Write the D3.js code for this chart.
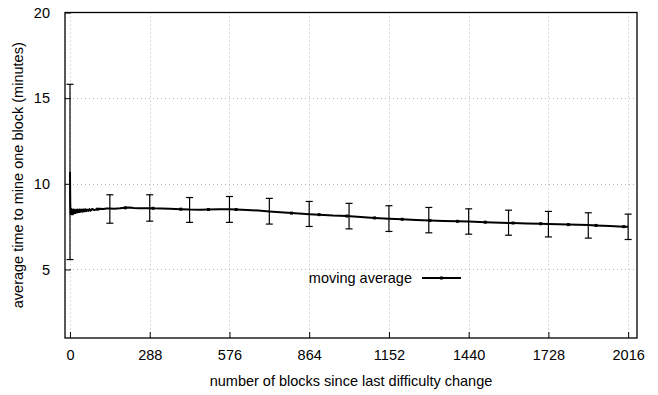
<!DOCTYPE html>
<html>
<head>
<meta charset="utf-8">
<script src="https://cdn.jsdelivr.net/npm/d3@7"></script>
<style>
  html, body { margin: 0; padding: 0; background: #fff; }
  svg { display: block; }
  text { font-family: "Liberation Sans", Arial, sans-serif; font-size: 14.5px; fill: #000; }
</style>
</head>
<body>
<svg id="chart" width="658" height="395"></svg>
<script>
// Moving average of block time, sampled along the difficulty period
const blocks = [0,1,2,3,4,5,6,7,8,9,10,11,12,13,14,15,16,18,20,22,24,26,28,30,32,34,36,38,40,43,46,49,52,55,58,62,66,70,74,80,88,96,
  100,110,120,132,144,160,180,200,215,230,250,270,288,300,330,360,400,432,470,500,540,576,600,640,680,720,
  760,800,840,864,900,950,1000,1050,1100,1152,1200,1250,1300,1350,1400,1440,1500,1584,1600,1650,1700,1728,
  1800,1872,1900,1950,2000,2016];
const avgMinutes = [10.7,8.9,8.25,8.55,8.22,8.45,8.24,8.5,8.28,8.46,8.22,8.44,8.26,8.5,8.3,8.45,8.28,8.48,8.3,8.46,8.32,8.5,8.34,8.48,8.36,8.5,8.35,8.49,8.38,8.5,8.37,8.5,8.4,8.52,8.4,8.5,8.42,8.52,8.43,8.53,8.46,8.52,
  8.52,8.54,8.53,8.56,8.56,8.55,8.57,8.6,8.62,8.59,8.58,8.58,8.58,8.57,8.56,8.55,8.52,8.5,8.49,8.5,8.51,8.52,8.5,8.47,8.44,8.39,
  8.34,8.29,8.25,8.23,8.2,8.15,8.12,8.06,8.01,7.96,7.93,7.89,7.86,7.83,7.81,7.8,7.76,7.72,7.71,7.69,7.67,7.66,
  7.62,7.59,7.57,7.54,7.5,7.49];

// Spread of the average at every 144th block
const errBlocks = [0,144,288,432,576,720,864,1008,1152,1296,1440,1584,1728,1872,2016];
const errMean = [10.7,8.56,8.58,8.5,8.52,8.39,8.23,8.11,7.96,7.86,7.8,7.72,7.66,7.59,7.49];
const errLow  = [5.58,7.7,7.82,7.75,7.75,7.65,7.51,7.37,7.22,7.14,7.06,7.0,6.9,6.83,6.75];
const errHigh = [15.81,9.36,9.36,9.2,9.26,9.15,8.97,8.86,8.72,8.62,8.54,8.46,8.39,8.31,8.23];

const xTicks = [0,288,576,864,1152,1440,1728,2016];
const yTicks = [5,10,15,20];
const markerStep = 100;
const seriesName = "moving average";
const xTitle = "number of blocks since last difficulty change";
const yTitle = "average time to mine one block (minutes)";

const svg = d3.select("#chart");
const L = 65, R = 637, T = 12.5, B = 338;
const FONT = "Liberation Sans, Arial, sans-serif";

const x = d3.scaleLinear().domain([-18, 2048]).range([L, R]);
const y = d3.scaleLinear().domain([1, 20]).range([B, T]);

// dotted grid
const grid = svg.append("g").attr("stroke", "#b4b4b4").attr("stroke-width", 1)
  .attr("stroke-dasharray", "1,3");
grid.selectAll("line.gx").data(xTicks).join("line")
  .attr("x1", d => Math.round(x(d)) + 0.5).attr("x2", d => Math.round(x(d)) + 0.5)
  .attr("y1", T).attr("y2", B);
grid.selectAll("line.gy").data(yTicks.filter(d => d < 20)).join("line")
  .attr("y1", d => Math.round(y(d)) + 0.5).attr("y2", d => Math.round(y(d)) + 0.5)
  .attr("x1", L).attr("x2", R);

// axes with inward ticks
const xAxis = d3.axisBottom(x).tickValues(xTicks).tickFormat(d3.format("d")).tickSize(-6).tickPadding(12);
const gx = svg.append("g").attr("transform", `translate(0,${B})`).call(xAxis);
const yAxis = d3.axisLeft(y).tickValues(yTicks).tickFormat(d3.format("d")).tickSize(-6).tickPadding(15);
const gy = svg.append("g").attr("transform", `translate(${L},0)`).call(yAxis);
[gx, gy].forEach(g => {
  g.select(".domain").remove();
  g.selectAll(".tick line").attr("stroke", "#000");
  g.selectAll(".tick text").attr("font-size", 14.5).attr("font-family", FONT).attr("fill", "#000");
});

// plot frame
svg.append("rect").attr("x", L).attr("y", T).attr("width", R - L).attr("height", B - T)
  .attr("fill", "none").attr("stroke", "#000").attr("stroke-width", 1.3);

// error bars
const eb = svg.append("g").attr("stroke", "#000").attr("stroke-width", 1.2);
errBlocks.forEach((b, i) => {
  const cx = x(b);
  eb.append("line").attr("x1", cx).attr("x2", cx).attr("y1", y(errLow[i])).attr("y2", y(errHigh[i]));
  eb.append("line").attr("x1", cx - 3.5).attr("x2", cx + 3.5).attr("y1", y(errLow[i])).attr("y2", y(errLow[i]));
  eb.append("line").attr("x1", cx - 3.5).attr("x2", cx + 3.5).attr("y1", y(errHigh[i])).attr("y2", y(errHigh[i]));
});

// moving average line
const pts = blocks.map((b, i) => [b, avgMinutes[i]]);
svg.append("path").datum(pts)
  .attr("fill", "none").attr("stroke", "#000").attr("stroke-width", 2).attr("stroke-linejoin", "round")
  .attr("d", d3.line().x(d => x(d[0])).y(d => y(d[1])));

svg.append("g").selectAll("rect").data(pts.filter(d => d[0] > 0 && d[0] % markerStep === 0)).join("rect")
  .attr("x", d => x(d[0]) - 1.5).attr("y", d => y(d[1]) - 1.5).attr("width", 3).attr("height", 3)
  .attr("fill", "#000");

// legend
const lg = svg.append("g");
lg.append("text").attr("x", 412).attr("y", 278).attr("text-anchor", "end")
  .attr("dominant-baseline", "central").text(seriesName);
lg.append("line").attr("x1", 422).attr("x2", 461).attr("y1", 278).attr("y2", 278)
  .attr("stroke", "#000").attr("stroke-width", 2);
lg.append("rect").attr("x", 440).attr("y", 276.5).attr("width", 3).attr("height", 3).attr("fill", "#000");

// axis titles
svg.append("text").attr("x", (L + R) / 2).attr("y", 381).attr("text-anchor", "middle")
  .attr("dominant-baseline", "central").text(xTitle);
svg.append("text").attr("transform", `translate(18,${(T + B) / 2}) rotate(-90)`)
  .attr("text-anchor", "middle").attr("dominant-baseline", "central").text(yTitle);
</script>
</body>
</html>
